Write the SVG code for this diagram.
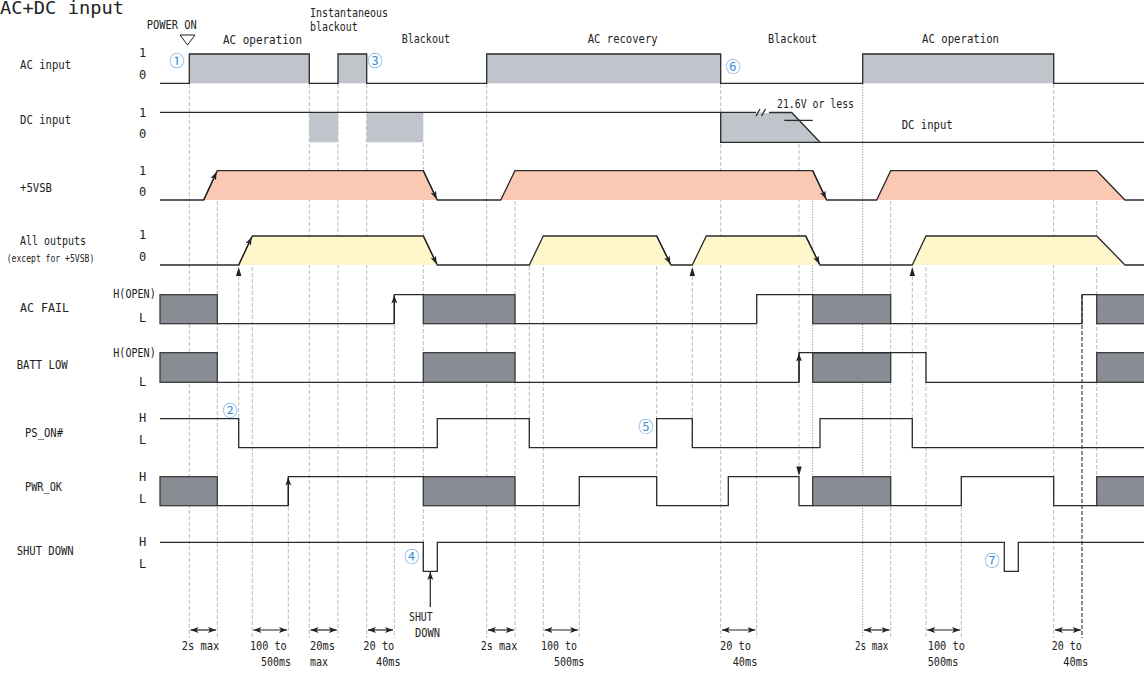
<svg xmlns="http://www.w3.org/2000/svg" width="1144" height="675" viewBox="0 0 1144 675">
<defs>
<style>
text{font-family:"DejaVu Sans Mono","Liberation Mono",monospace;font-size:12px;fill:#222;}
.sm{font-size:10px;}
.sig{fill:none;stroke:#2a2a2a;stroke-width:1.3;stroke-linejoin:miter;}
.g1{fill:#c0c4cb;}
.dk{fill:#878d93;stroke:#3a3a3a;stroke-width:1.3;}
.vs{fill:#fac8b3;}
.ao{fill:#fff7cb;}
.gd{stroke:#b4b4b4;stroke-width:0.9;stroke-dasharray:4 2;fill:none;}
.gdot{stroke:#888;stroke-width:0.9;stroke-dasharray:1.2 1.5;fill:none;}
.gbold{stroke:#444;stroke-width:1.2;stroke-dasharray:4 2;fill:none;}
.arr{stroke:#222;stroke-width:1.2;fill:none;}
.tri{fill:#222;}
.num{font-family:"Noto Sans CJK JP",sans-serif;font-size:15px;fill:#3a8ed6;text-anchor:middle;}
</style>
<marker id="ah" markerUnits="userSpaceOnUse" markerWidth="10" markerHeight="8" refX="8" refY="3.5" orient="auto"><path d="M0,0.5 L8,3.5 L0,6.5 L2,3.5 z" fill="#222"/></marker>
<marker id="ah2" markerUnits="userSpaceOnUse" markerWidth="10" markerHeight="8" refX="8" refY="3.5" orient="auto-start-reverse"><path d="M0,0.5 L8,3.5 L0,6.5 L2,3.5 z" fill="#222"/></marker>
</defs>

<g id="title">
<text x="0" y="14" style="font-size:17px" textLength="124" lengthAdjust="spacingAndGlyphs">AC+DC input</text>
</g>

<g id="row-labels">
<text x="20" y="69" textLength="51" lengthAdjust="spacingAndGlyphs">AC input</text>
<text x="20" y="124" textLength="51" lengthAdjust="spacingAndGlyphs">DC input</text>
<text x="20" y="191.7" textLength="32" lengthAdjust="spacingAndGlyphs">+5VSB</text>
<text x="20" y="245" textLength="66" lengthAdjust="spacingAndGlyphs">All outputs</text>
<text class="sm" x="6.7" y="261.7" textLength="87.6" lengthAdjust="spacingAndGlyphs">(except for +5VSB)</text>
<text x="20" y="312.3" textLength="49" lengthAdjust="spacingAndGlyphs">AC FAIL</text>
<text x="16.7" y="369.3" textLength="51" lengthAdjust="spacingAndGlyphs">BATT LOW</text>
<text x="25" y="437.3" textLength="38" lengthAdjust="spacingAndGlyphs">PS_ON#</text>
<text x="25" y="490.7" textLength="37" lengthAdjust="spacingAndGlyphs">PWR_OK</text>
<text x="16.7" y="555" textLength="57" lengthAdjust="spacingAndGlyphs">SHUT DOWN</text>
</g>

<g id="level-labels">
<text x="139" y="57.3">1</text><text x="139" y="79.3">0</text>
<text x="139" y="116.7">1</text><text x="139" y="138.3">0</text>
<text x="139" y="175">1</text><text x="139" y="196">0</text>
<text x="139" y="239.3">1</text><text x="139" y="260.7">0</text>
<text x="113.3" y="298.3" textLength="42.4" lengthAdjust="spacingAndGlyphs">H(OPEN)</text><text x="139" y="321.7">L</text>
<text x="113.3" y="357.3" textLength="42.4" lengthAdjust="spacingAndGlyphs">H(OPEN)</text><text x="139" y="385.7">L</text>
<text x="139" y="422.3">H</text><text x="139" y="444.3">L</text>
<text x="139" y="480.7">H</text><text x="139" y="503.3">L</text>
<text x="139" y="545.7">H</text><text x="139" y="567.7">L</text>
</g>

<g id="phase-labels">
<text x="146.7" y="29" textLength="50" lengthAdjust="spacingAndGlyphs">POWER ON</text>
<polygon points="180,35 195,35 187.5,45" fill="#fff" stroke="#222" stroke-width="1"/>
<text x="223" y="44" textLength="79" lengthAdjust="spacingAndGlyphs">AC operation</text>
<text x="310" y="17" textLength="78" lengthAdjust="spacingAndGlyphs">Instantaneous</text>
<text x="310" y="31" textLength="47.7" lengthAdjust="spacingAndGlyphs">blackout</text>
<text x="401.7" y="43" textLength="48.3" lengthAdjust="spacingAndGlyphs">Blackout</text>
<text x="587.7" y="43" textLength="70" lengthAdjust="spacingAndGlyphs">AC recovery</text>
<text x="768" y="43" textLength="49" lengthAdjust="spacingAndGlyphs">Blackout</text>
<text x="922" y="43" textLength="77" lengthAdjust="spacingAndGlyphs">AC operation</text>
<text x="777" y="108" textLength="77" lengthAdjust="spacingAndGlyphs">21.6V or less</text>
<text x="901.7" y="129.3" textLength="51" lengthAdjust="spacingAndGlyphs">DC input</text>
</g>

<g id="connectors">
<line class="gd" x1="189.3" y1="84" x2="189.3" y2="638"/>
<line class="gd" x1="217.3" y1="171" x2="217.3" y2="638"/>
<line class="gd" x1="238.7" y1="276" x2="238.7" y2="447.7"/>
<line class="gd" x1="252.3" y1="237" x2="252.3" y2="638"/>
<line class="gd" x1="288.3" y1="477" x2="288.3" y2="638"/>
<line class="gd" x1="309.3" y1="84" x2="309.3" y2="638"/>
<line class="gd" x1="338" y1="84" x2="338" y2="638"/>
<line class="gd" x1="366.7" y1="84" x2="366.7" y2="638"/>
<line class="gd" x1="394.3" y1="295" x2="394.3" y2="638"/>
<line class="gd" x1="423.3" y1="143" x2="423.3" y2="571"/>
<line class="gd" x1="486.7" y1="84" x2="486.7" y2="638"/>
<line class="gd" x1="515" y1="171" x2="515" y2="638"/>
<line class="gd" x1="529.3" y1="266" x2="529.3" y2="447.7"/>
<line class="gd" x1="543.3" y1="237" x2="543.3" y2="638"/>
<line class="gd" x1="579.3" y1="477" x2="579.3" y2="638"/>
<line class="gd" x1="656.7" y1="254" x2="656.7" y2="476.7"/>
<line class="gd" x1="692.3" y1="276" x2="692.3" y2="447.7"/>
<line class="gd" x1="720.7" y1="84" x2="720.7" y2="638"/>
<line class="gd" x1="756.7" y1="295" x2="756.7" y2="638"/>
<line class="gd" x1="799" y1="120" x2="799" y2="467"/>
<line class="gdot" x1="812.7" y1="171" x2="812.7" y2="506"/>
<line class="gdot" x1="862.7" y1="84" x2="862.7" y2="638"/>
<line class="gd" x1="890.7" y1="171" x2="890.7" y2="638"/>
<line class="gd" x1="912.3" y1="276" x2="912.3" y2="447.7"/>
<line class="gd" x1="926" y1="237" x2="926" y2="638"/>
<line class="gd" x1="961.3" y1="477" x2="961.3" y2="638"/>
<line class="gd" x1="1053.7" y1="84" x2="1053.7" y2="638"/>
<line class="gbold" x1="1082" y1="295" x2="1082" y2="638"/>
<line class="gd" x1="1096.7" y1="171" x2="1096.7" y2="506"/>

<line class="arr" x1="190.5" y1="630" x2="216" y2="630" marker-start="url(#ah2)" marker-end="url(#ah2)"/>
<line class="arr" x1="253.5" y1="630" x2="287" y2="630" marker-start="url(#ah2)" marker-end="url(#ah2)"/>
<line class="arr" x1="310.5" y1="630" x2="336.8" y2="630" marker-start="url(#ah2)" marker-end="url(#ah2)"/>
<line class="arr" x1="367.9" y1="630" x2="393" y2="630" marker-start="url(#ah2)" marker-end="url(#ah2)"/>
<line class="arr" x1="487.9" y1="630" x2="513.8" y2="630" marker-start="url(#ah2)" marker-end="url(#ah2)"/>
<line class="arr" x1="544.5" y1="630" x2="578" y2="630" marker-start="url(#ah2)" marker-end="url(#ah2)"/>
<line class="arr" x1="721.9" y1="630" x2="755.5" y2="630" marker-start="url(#ah2)" marker-end="url(#ah2)"/>
<line class="arr" x1="863.9" y1="630" x2="889.5" y2="630" marker-start="url(#ah2)" marker-end="url(#ah2)"/>
<line class="arr" x1="927.2" y1="630" x2="960" y2="630" marker-start="url(#ah2)" marker-end="url(#ah2)"/>
<line class="arr" x1="1054.9" y1="630" x2="1080.8" y2="630" marker-start="url(#ah2)" marker-end="url(#ah2)"/>

<line class="arr" x1="430.3" y1="607" x2="430.3" y2="572" marker-end="url(#ah)"/>

<polygon class="tri" points="238.7,267 236,276 241.4,276"/>
<polygon class="tri" points="656.7,246.5 654,255 659.4,255"/>
<polygon class="tri" points="692.3,267 689.6,276 695,276"/>
<polygon class="tri" points="912.3,267 909.6,276 915,276"/>
<polygon class="tri" points="796.3,466.5 801.7,466.5 799,476"/>
</g>

<g id="ac-input">
<rect class="g1" x="189.3" y="54" width="120" height="29.3"/>
<rect class="g1" x="338" y="54" width="28.7" height="29.3"/>
<rect class="g1" x="486.7" y="54" width="234" height="29.3"/>
<rect class="g1" x="862.7" y="54" width="191" height="29.3"/>
<path class="sig" d="M160,83.3 H189.3 V54 H309.3 V83.3 H338 V54 H366.7 V83.3 H486.7 V54 H720.7 V83.3 H862.7 V54 H1053.7 V83.3 H1144"/>
</g>

<g id="dc-input">
<rect class="g1" x="309.3" y="112.3" width="28.7" height="30"/>
<rect class="g1" x="366.7" y="112.3" width="56.6" height="30"/>
<polygon class="g1" points="720.7,112.3 791.7,112.6 820,142.3 720.7,142.3"/>
<path class="sig" d="M160,112.3 H756"/>
<path class="sig" d="M769,112.5 H791.7 L820,142.3"/>
<path class="sig" d="M720.7,112.3 V142.3 H1144"/>
<path class="sig" d="M756,116 L760,109 M761.5,116 L765.5,109"/>
<path class="sig" d="M784.3,120.4 H812.7"/>
</g>

<g id="vsb">
<polygon class="vs" points="203.7,200 217.3,170.7 423.3,170.7 437.3,200"/>
<polygon class="vs" points="500.7,200 515,170.7 812.7,170.7 826.7,200"/>
<polygon class="vs" points="876.7,200 890.7,170.7 1096.7,170.7 1125,200"/>
<path class="sig" d="M160,200 H203.7 L217.3,170.7 H423.3 L437.3,200 H500.7 L515,170.7 H812.7 L826.7,200 H876.7 L890.7,170.7 H1096.7 L1125,200 H1144"/>
<line class="arr" x1="203.7" y1="200" x2="216.6" y2="172" marker-end="url(#ah)"/>
<line class="arr" x1="423.3" y1="170.7" x2="436.7" y2="199" marker-end="url(#ah)"/>
<line class="arr" x1="812.7" y1="170.7" x2="826.1" y2="199" marker-end="url(#ah)"/>
</g>

<g id="all-outputs">
<polygon class="ao" points="238.7,265 252.3,236 423.3,236 437.3,265"/>
<polygon class="ao" points="529.3,265 543.3,236 656.7,236 671,265"/>
<polygon class="ao" points="692.3,265 706.3,236 805.7,236 820,265"/>
<polygon class="ao" points="912.3,265 926,236 1096.7,236 1125,265"/>
<path class="sig" d="M160,265 H238.7 L252.3,236 H423.3 L437.3,265 H529.3 L543.3,236 H656.7 L671,265 H692.3 L706.3,236 H805.7 L820,265 H912.3 L926,236 H1096.7 L1125,265 H1144"/>
<line class="arr" x1="238.7" y1="265" x2="251.6" y2="237.3" marker-end="url(#ah)"/>
<line class="arr" x1="423.3" y1="236" x2="436.7" y2="264" marker-end="url(#ah)"/>
<line class="arr" x1="656.7" y1="236" x2="670.4" y2="264" marker-end="url(#ah)"/>
<line class="arr" x1="805.7" y1="236" x2="819.4" y2="264" marker-end="url(#ah)"/>
</g>

<g id="ac-fail">
<rect class="dk" x="160" y="294.7" width="57.3" height="29"/>
<rect class="dk" x="423.3" y="294.7" width="91.7" height="29"/>
<rect class="dk" x="812.7" y="294.7" width="78" height="29"/>
<rect class="dk" x="1096.7" y="294.7" width="50" height="29"/>
<path class="sig" d="M217.3,323.7 H394.3 V294.7 H423.3 M515,323.7 H756.7 V294.7 H812.7 M890.7,323.7 H1082 V294.7 H1096.7"/>
<line class="arr" x1="394.3" y1="323.7" x2="394.3" y2="295.5" marker-end="url(#ah)"/>
</g>

<g id="batt-low">
<rect class="dk" x="160" y="352.7" width="57.3" height="29.6"/>
<rect class="dk" x="423.3" y="352.7" width="91.7" height="29.6"/>
<rect class="dk" x="812.7" y="352.7" width="78" height="29.6"/>
<rect class="dk" x="1096.7" y="352.7" width="50" height="29.6"/>
<path class="sig" d="M217.3,382.3 H423.3 M515,382.3 H799 V352.7 H926 V382.3 H1096.7"/>
<line class="arr" x1="799" y1="382.3" x2="799" y2="353.5" marker-end="url(#ah)"/>
</g>

<g id="ps-on">
<path class="sig" d="M160,418.7 H238.7 V447.7 H437.3 V418.7 H529.3 V447.7 H656.7 V418.7 H692.3 V447.7 H820 V418.7 H912.3 V447.7 H1144"/>
</g>

<g id="pwr-ok">
<rect class="dk" x="160" y="476.7" width="57.3" height="29"/>
<rect class="dk" x="423.3" y="476.7" width="91.7" height="29"/>
<rect class="dk" x="812.7" y="476.7" width="78" height="29"/>
<rect class="dk" x="1096.7" y="476.7" width="50" height="29"/>
<path class="sig" d="M217.3,505.7 H288.3 V476.7 H423.3 M515,505.7 H579.3 V476.7 H656.7 V505.7 H728.3 V476.7 H799 V505.7 H812.7 M890.7,505.7 H961.3 V476.7 H1053.7 V505.7 H1096.7"/>
<line class="arr" x1="288.3" y1="505.7" x2="288.3" y2="477.5" marker-end="url(#ah)"/>
</g>

<g id="shut-down">
<path class="sig" d="M160,542.3 H423.3 V571.3 H437.3 V542.3 H1004.3 V571.3 H1018.3 V542.3 H1144"/>
<text x="409" y="621" textLength="23.7" lengthAdjust="spacingAndGlyphs">SHUT</text>
<text x="415" y="636.5" textLength="25" lengthAdjust="spacingAndGlyphs">DOWN</text>
</g>

<g id="timing-labels">
<text x="181.7" y="650" textLength="37.6" lengthAdjust="spacingAndGlyphs">2s max</text>
<text x="250" y="650" textLength="36.7" lengthAdjust="spacingAndGlyphs">100 to</text>
<text x="261" y="666" textLength="30" lengthAdjust="spacingAndGlyphs">500ms</text>
<text x="310" y="650" textLength="25" lengthAdjust="spacingAndGlyphs">20ms</text>
<text x="310" y="666" textLength="18" lengthAdjust="spacingAndGlyphs">max</text>
<text x="363.3" y="650" textLength="31" lengthAdjust="spacingAndGlyphs">20 to</text>
<text x="376" y="666" textLength="24.6" lengthAdjust="spacingAndGlyphs">40ms</text>
<text x="480.7" y="650" textLength="36.6" lengthAdjust="spacingAndGlyphs">2s max</text>
<text x="541" y="650" textLength="36" lengthAdjust="spacingAndGlyphs">100 to</text>
<text x="554" y="666" textLength="30.3" lengthAdjust="spacingAndGlyphs">500ms</text>
<text x="720" y="650" textLength="31" lengthAdjust="spacingAndGlyphs">20 to</text>
<text x="732.7" y="666" textLength="24.6" lengthAdjust="spacingAndGlyphs">40ms</text>
<text x="855" y="650" textLength="33.3" lengthAdjust="spacingAndGlyphs">2s max</text>
<text x="927.7" y="650" textLength="37.3" lengthAdjust="spacingAndGlyphs">100 to</text>
<text x="927.7" y="666" textLength="30.6" lengthAdjust="spacingAndGlyphs">500ms</text>
<text x="1051.7" y="650" textLength="30" lengthAdjust="spacingAndGlyphs">20 to</text>
<text x="1063.3" y="666" textLength="25" lengthAdjust="spacingAndGlyphs">40ms</text>
</g>

<g id="markers-numbers">
<text class="num" x="176.7" y="65.5">①</text>
<text class="num" x="230" y="416">②</text>
<text class="num" x="375" y="65.5">③</text>
<text class="num" x="411.7" y="562">④</text>
<text class="num" x="645.7" y="432">⑤</text>
<text class="num" x="733" y="71.5">⑥</text>
<text class="num" x="992" y="565.5">⑦</text>
</g>
</svg>
